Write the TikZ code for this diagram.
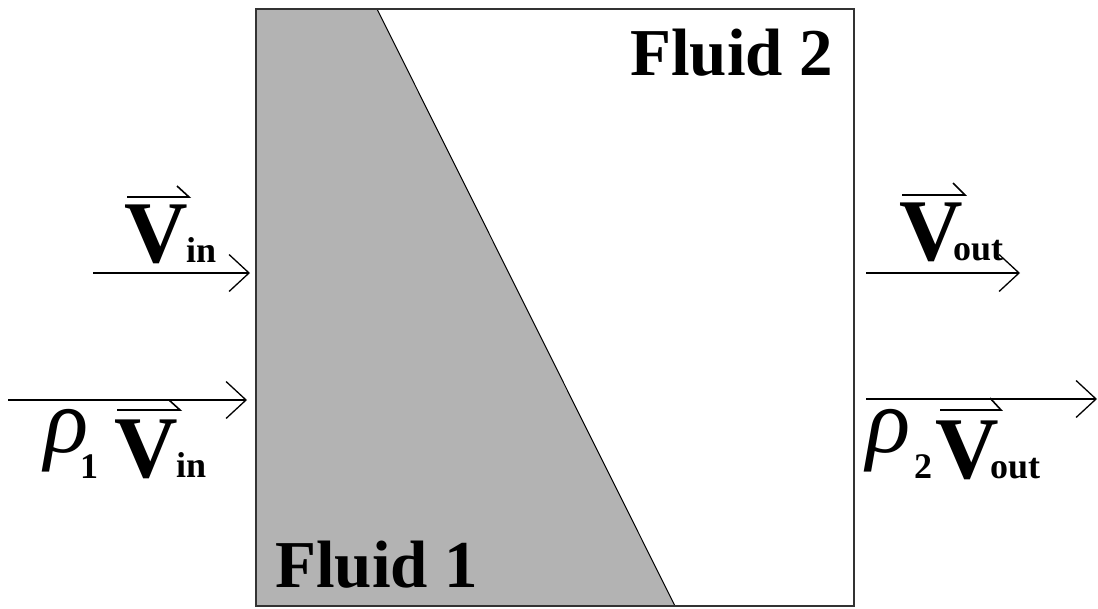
\documentclass[tikz,border=0pt]{standalone}
\usepackage{fontspec}
\setmainfont{Liberation Serif}
\usetikzlibrary{arrows.meta,calc}
\definecolor{fluidgray}{RGB}{179,179,179}
\tikzset{
  flow/.style={line width=1.3pt,-{Straight Barb[length=20pt,width=37pt,line width=1.3pt]}},
  harp/.style={line width=1.6pt},
  lbl/.style={inner sep=0pt,anchor=base west},
  bigV/.style={lbl,font=\bfseries\fontsize{88}{88}\selectfont},
  subs/.style={lbl,font=\bfseries\fontsize{36}{36}\selectfont},
  rho/.style={lbl,font=\itshape\fontsize{92}{92}\selectfont},
  fluid/.style={lbl,font=\bfseries\fontsize{67}{67}\selectfont}
}
\begin{document}
\begin{tikzpicture}[x=1pt,y=-1pt]
\useasboundingbox (0,0) rectangle (1098,608);
% box and fluid 1 region
\fill[fluidgray] (256,9) -- (377,9) -- (675,606) -- (256,606) -- cycle;
\draw[line width=1pt] (377,9) -- (675,606);
\draw[line width=1.5pt,draw=black!80] (256,9) rectangle (854,606);
\node[fluid] (f1) at (275,587) {Fluid 1};
\node[fluid] (f2) at (630,75) {Fluid 2};
% arrows
\coordinate (a1s) at (93,273);  \coordinate (a1e) at (250,273);
\coordinate (a2s) at (8,400);   \coordinate (a2e) at (247,400);
\coordinate (a3s) at (866,273); \coordinate (a3e) at (1020,273);
\coordinate (a4s) at (866,399); \coordinate (a4e) at (1097,399);
\draw[flow] (a1s) -- (a1e);
\draw[flow] (a2s) -- (a2e);
\draw[flow] (a3s) -- (a3e);
\draw[flow] (a4s) -- (a4e);
% V_in (top left)
\node[bigV] (v1) at (124,262) {V};
\node[subs] (v1s) at (186,262) {in};
\draw[harp] (127,197) -- (189,197) -- (177,186);
% rho1 V_in
\node[rho] (r1) at (44,452) {ρ};
\node[subs] (r1s) at (80,478) {1};
\node[bigV] (v2) at (114,477) {V};
\node[subs] (v2s) at (176,477) {in};
\draw[harp] (117,410) -- (180,410) -- (169,400);
% V_out (top right)
\node[bigV] (v3) at (899,260) {V};
\node[subs] (v3s) at (953,260) {out};
\draw[harp] (902,195) -- (965,195) -- (953,183);
% rho2 V_out
\node[rho] (r2) at (866,452) {ρ};
\node[subs] (r2s) at (914,478) {2};
\node[bigV] (v4) at (935,478) {V};
\node[subs] (v4s) at (990,478) {out};
\draw[harp] (940,410) -- (1001,410) -- (990,398);
\end{tikzpicture}
\end{document}
